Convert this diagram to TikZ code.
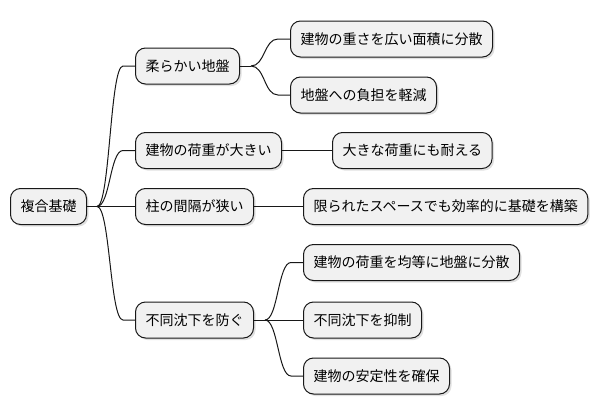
\documentclass[tikz,border=0pt]{standalone}
\usepackage{fontspec}
\setmainfont{Noto Sans CJK JP}
\usetikzlibrary{shadows,calc}
\definecolor{boxfill}{HTML}{F1F1F1}
\definecolor{boxline}{HTML}{181818}
\begin{document}
\begin{tikzpicture}[x=1pt,y=-1pt,
  mm/.style={draw=boxline, fill=boxfill, line width=1pt, rounded corners=10pt,
    minimum height=36pt, inner xsep=10pt, inner ysep=0pt, anchor=west,
    font=\fontsize{14pt}{16pt}\selectfont,
    drop shadow={shadow xshift=2pt, shadow yshift=-2pt, fill=black, opacity=0.12}},
  conn/.style={draw=boxline, line width=1pt}]
\useasboundingbox (0,0) rectangle (600,415);
\node[mm] (root) at (10,206.5) {複合基礎};
\node[mm] (a) at (135,66) {柔らかい地盤};
\node[mm] (b) at (135,150.5) {建物の荷重が大きい};
\node[mm] (c) at (135,206.5) {柱の間隔が狭い};
\node[mm] (d) at (135,320) {不同沈下を防ぐ};
\node[mm] (a1) at (290,39) {建物の重さを広い面積に分散};
\node[mm] (a2) at (290,95) {地盤への負担を軽減};
\node[mm] (b1) at (332,150.5) {大きな荷重にも耐える};
\node[mm] (c1) at (303,206.5) {限られたスペースでも効率的に基礎を構築};
\node[mm] (d1) at (303,262.5) {建物の荷重を均等に地盤に分散};
\node[mm] (d2) at (303,320) {不同沈下を抑制};
\node[mm] (d3) at (303,376) {建物の安定性を確保};
% root branches
\draw[conn] (root.east) -- ++(10,0) coordinate (rb);
\draw[conn] (rb) .. controls +(13,0) and +(-13,0) .. ($(a.west)+(-12,0)$) -- (a.west);
\draw[conn] (rb) .. controls +(13,0) and +(-13,0) .. ($(b.west)+(-12,0)$) -- (b.west);
\draw[conn] (rb) -- (c.west);
\draw[conn] (rb) .. controls +(13,0) and +(-13,0) .. ($(d.west)+(-12,0)$) -- (d.west);
% a branches
\draw[conn] (a.east) -- ++(11,0) coordinate (ab);
\draw[conn] (ab) .. controls +(14,0) and +(-14,0) .. ($(a1.west)+(-12,0)$) -- (a1.west);
\draw[conn] (ab) .. controls +(14,0) and +(-14,0) .. ($(a2.west)+(-12,0)$) -- (a2.west);
% b, c
\draw[conn] (b.east) -- (b1.west);
\draw[conn] (c.east) -- (c1.west);
% d branches
\draw[conn] (d.east) -- ++(11,0) coordinate (db);
\draw[conn] (db) .. controls +(13,0) and +(-13,0) .. ($(d1.west)+(-12,0)$) -- (d1.west);
\draw[conn] (db) -- (d2.west);
\draw[conn] (db) .. controls +(13,0) and +(-13,0) .. ($(d3.west)+(-12,0)$) -- (d3.west);
\end{tikzpicture}
\end{document}
